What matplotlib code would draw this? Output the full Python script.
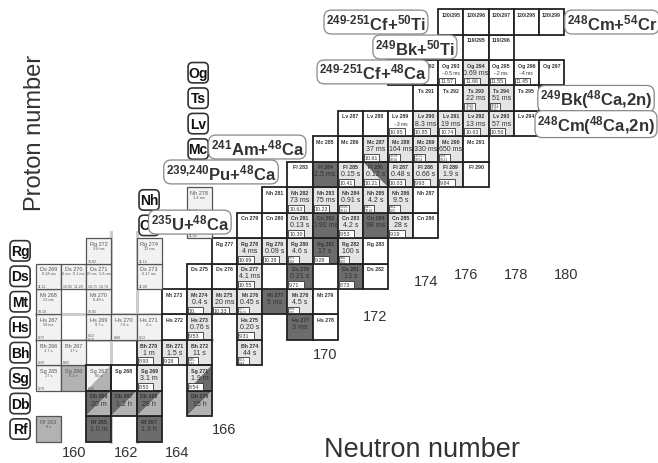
import matplotlib
matplotlib.use("Agg")
import matplotlib.pyplot as plt
from matplotlib.patches import Rectangle, Polygon, FancyBboxPatch

plt.rcParams['font.family'] = ['Liberation Sans', 'DejaVu Sans']
plt.rcParams['mathtext.default'] = 'regular'

# ---------------- data ----------------
symbols = {104: 'Rf', 105: 'Db', 106: 'Sg', 107: 'Bh', 108: 'Hs', 109: 'Mt', 110: 'Ds',
           111: 'Rg', 112: 'Cn', 113: 'Nh', 114: 'Fl', 115: 'Mc', 116: 'Lv', 117: 'Ts', 118: 'Og'}

cell_Z = [104, 104, 104,
          105, 105, 105, 105,
          106, 106, 106, 106, 106, 106,
          107, 107, 107, 107, 107, 107,
          108, 108, 108, 108, 108, 108, 108, 108, 108,
          109, 109, 109, 109, 109, 109, 109, 109, 109,
          110, 110, 110, 110, 110, 110, 110, 110, 110, 110,
          111, 111, 111, 111, 111, 111, 111, 111, 111,
          112, 112, 112, 112, 112, 112, 112, 112, 112,
          113, 113, 113, 113, 113, 113, 113, 113,
          114, 114, 114, 114, 114, 114, 114, 114,
          115, 115, 115, 115, 115, 115, 115,
          116, 116, 116, 116, 116, 116, 116, 116,
          117, 117, 117, 117, 117,
          118, 118, 118, 118, 118, 118, 118,
          119, 119,
          120, 120, 120, 120, 120]
cell_A = [263, 265, 267,
          266, 267, 268, 270,
          265, 266, 267, 268, 269, 271,
          266, 267, 270, 271, 272, 274,
          267, 269, 270, 271, 272, 273, 275, 277, 278,
          268, 270, 273, 274, 275, 276, 277, 278, 279,
          269, 270, 271, 273, 275, 276, 277, 279, 281, 282,
          272, 274, 277, 278, 279, 280, 281, 282, 283,
          277, 279, 280, 281, 282, 283, 284, 285, 286,
          278, 281, 282, 283, 284, 285, 286, 287,
          283, 284, 285, 286, 287, 288, 289, 290,
          285, 286, 287, 288, 289, 290, 291,
          287, 288, 289, 290, 291, 292, 293, 294,
          291, 292, 293, 294, 295,
          291, 292, 293, 294, 295, 296, 297,
          295, 296,
          295, 296, 297, 298, 299]
cell_half = ['8 s', '1.0 m', '1.3 h',
             '20 m', '1.2 h', '28 h', '15 h',
             '17 s', '0.3 s', '80 s', '', '3.1 m', '1.9 m',
             '1.7 s', '17 s', '1 m', '1.5 s', '11 s', '44 s',
             '59 ms', '9.7 s', '7.6 s', '4 s', '', '0.76 s', '0.20 s', '3 ms', '',
             '21 ms', '0.48 s', '', '0.4 s', '20 ms', '0.45 s', '5 ms', '4.5 s', '',
             '0.18 ms', '6 ms  0.1 ms', '69 ms  1.6 ms', '0.17 ms', '', '', '4.1 ms', '0.21 s', '13 s', '',
             '3.8 ms', '12 ms', '', '4 ms', '0.09 s', '4.6 s', '17 s', '100 s', '',
             '0.69 ms', '', '', '0.13 s', '0.91 ms', '4.2 s', '98 ms', '28 s', '',
             '1.4 ms', '', '73 ms', '75 ms', '0.91 s', '4.2 s', '9.5 s', '',
             '', '2.5 ms', '0.15 s', '0.12 s', '0.48 s', '0.66 s', '1.9 s', '',
             '', '', '37 ms', '164 ms', '330 ms', '650 ms', '',
             '', '', '~3 ms', '8.3 ms', '19 ms', '13 ms', '57 ms', '',
             '', '', '22 ms', '51 ms', '',
             '', '', '~0.5 ms', '0.69 ms', '~2 ms', '~4 ms', '',
             '', '',
             '', '', '', '', '']
cell_energy = ['', '', '',
               '', '', '', '',
               '8.70', '', '8.20', '', '8.50', '8.54',
               '9.29', '8.83', '8.93', '9.28', '8.85-\n9.15', '8.73-\n8.84',
               '9.73', '9.13\n9.18', '8.88', '9.13', '', '9.53', '9.31', '', '',
               '10.10', '10.05', '', '10.', '10.33', '9.77-\n10.03', '', '9.38-\n9.55', '',
               '11.11', '10.95  11.20', '10.71  10.74', '11.08', '', '', '10.55', '9.71', '8.73', '',
               '10.82', '11.15', '', '10.69', '10.38', '9.75-\n9.92', '9.28', '8.66-\n9.00', '',
               '11.45', '', '', '10.30', '', '9.53', '', '9.19', '',
               '11.68', '', '10.63', '10.23', '10.00-\n10.11', '9.47-\n10.18', '9.61-\n9.75', '',
               '', '', '10.41', '10.21', '10.03', '9.93', '9.84', '',
               '', '', '10.61', '10.29-\n10.56', '10.15-\n10.54', '9.78-\n10.31', '',
               '', '', '10.95', '10.85', '10.74', '10.63', '10.56', '',
               '', '', '10.60-\n11.20', '10.81-\n11.07', '',
               '', '', '11.57', '11.66', '11.55', '11.45', '',
               '', '',
               '', '', '', '', '']
cell_kind = ['med', 'dark', 'dark',
             'dm', 'dm', 'dm', 'dm',
             'old', 'med', 'lm', 'empty', 'new', 'ld2',
             'old', 'old', 'new', 'new', 'new', 'new',
             'old', 'old', 'old', 'old', 'empty', 'new', 'new', 'dark', 'empty',
             'old', 'old', 'empty', 'new', 'new', 'new', 'dark', 'new', 'empty',
             'old', 'old', 'old', 'old', 'empty', 'empty', 'new', 'dl', 'dl', 'empty',
             'old', 'old', 'empty', 'new', 'new', 'new', 'dl', 'new', 'empty',
             'old', 'empty', 'empty', 'new', 'dark', 'new', 'dark', 'new', 'empty',
             'old', 'empty', 'new', 'new', 'new', 'new', 'new', 'empty',
             'empty', 'dark', 'new', 'ld', 'new', 'new', 'new', 'empty',
             'empty', 'empty', 'new', 'new', 'new', 'new', 'empty',
             'empty', 'empty', 'white', 'new', 'new', 'new', 'new', 'empty',
             'empty', 'empty', 'new', 'new', 'empty',
             'empty', 'empty', 'white', 'new', 'white', 'white', 'empty',
             'empty', 'empty',
             'empty', 'empty', 'empty', 'empty', 'empty']

elem_labels = ['Rf', 'Db', 'Sg', 'Bh', 'Hs', 'Mt', 'Ds', 'Rg', 'Cn', 'Nh', 'Mc', 'Lv', 'Ts', 'Og']
elem_N = [157.87] * 8 + [163.0, 163.0] + [164.95] * 4
elem_Z = [104, 105, 106, 107, 108, 109, 110, 111, 112, 113, 115, 116, 117, 118]

n_labels = ['160', '162', '164', '166', '170', '172', '174', '176', '178', '180']
n_label_N = [160.0, 162.1, 164.1, 166.0, 170.0, 172.0, 174.0, 175.6, 177.6, 179.6]
n_label_Z = [103.1, 103.1, 103.1, 104.0, 106.95, 108.45, 109.8, 110.1, 110.1, 110.1]

reactions = [r'$^{249\text{-}251}$Cf+$^{50}$Ti', r'$^{249}$Bk+$^{50}$Ti', r'$^{249\text{-}251}$Cf+$^{48}$Ca',
             r'$^{248}$Cm+$^{54}$Cr', r'$^{249}$Bk($^{48}$Ca,2n)', r'$^{248}$Cm($^{48}$Ca,2n)',
             r'$^{241}$Am+$^{48}$Ca', r'$^{239{,}240}$Pu+$^{48}$Ca', r'$^{235}$U+$^{48}$Ca']
react_N = [172.02, 173.57, 171.90, 181.40, 180.77, 180.77, 167.30, 165.86, 164.62]
react_Z = [119.99, 119.01, 118.03, 119.99, 116.97, 115.98, 115.08, 114.10, 112.13]

# ---------------- drawing ----------------
fig = plt.figure(figsize=(6.58, 4.64), dpi=100)
ax = fig.add_axes([0, 0, 1, 1])
ax.set_xlim(157.072, 183.235)
ax.set_ylim(102.664, 120.896)
ax.axis('off')

LIGHT = '#e4e4e4'
MED = '#b2b2b2'
DARK = '#6c6c6c'
OLDF = '#f2f2f2'

# shell lines N=162, Z=108
for xv in (161.5, 162.5):
    ax.plot([xv, xv], [103.5, 111.75], color='#cccccc', lw=2.2, zorder=0.5)
for yv in (107.5, 108.5):
    ax.plot([158.5, 165.5], [yv, yv], color='#cccccc', lw=2.2, zorder=0.5)

for Z, A, half, en, kind in zip(cell_Z, cell_A, cell_half, cell_energy, cell_kind):
    N = A - Z
    x0, y0 = N - 0.5, Z - 0.5
    if kind in ('dm', 'lm', 'ld', 'dl', 'ld2'):
        if kind == 'dm':
            c1, c2 = DARK, MED
            tri1 = [(x0, y0), (x0, y0 + 1), (x0 + 1, y0 + 1)]
            tri2 = [(x0, y0), (x0 + 1, y0), (x0 + 1, y0 + 1)]
        elif kind == 'lm':
            c1, c2 = OLDF, MED
            tri1 = [(x0, y0), (x0, y0 + 1), (x0 + 1, y0 + 1)]
            tri2 = [(x0, y0), (x0 + 1, y0), (x0 + 1, y0 + 1)]
        elif kind == 'ld':
            c1, c2 = LIGHT, DARK
            tri1 = [(x0, y0 + 1), (x0, y0), (x0 + 1, y0)]
            tri2 = [(x0, y0 + 1), (x0 + 1, y0 + 1), (x0 + 1, y0)]
        elif kind == 'ld2':
            c1, c2 = LIGHT, DARK
            tri1 = [(x0, y0 + 1), (x0 + 1, y0 + 1), (x0, y0)]
            tri2 = [(x0, y0), (x0 + 1, y0), (x0 + 1, y0 + 1)]
        else:
            c1, c2 = LIGHT, DARK
            tri1 = [(x0, y0), (x0 + 0.3, y0), (x0, y0 + 0.3)]
            tri2 = [(x0 + 0.3, y0), (x0 + 1, y0), (x0 + 1, y0 + 1), (x0, y0 + 1), (x0, y0 + 0.3)]
        ax.add_patch(Polygon(tri1, closed=True, fc=c1, ec='none', zorder=1))
        ax.add_patch(Polygon(tri2, closed=True, fc=c2, ec='none', zorder=1))
        ax.add_patch(Rectangle((x0, y0), 1, 1, fc='none', ec='#222222', lw=1.3, zorder=2))
    else:
        fc = {'med': MED, 'dark': DARK, 'old': OLDF, 'new': LIGHT,
              'empty': 'white', 'white': 'white'}[kind]
        ec = '#555555' if kind in ('old', 'med') else '#222222'
        lw = 0.9 if kind in ('old', 'med') else 1.3
        ax.add_patch(Rectangle((x0, y0), 1, 1, fc=fc, ec=ec, lw=lw, zorder=1))

    name = f'{symbols[Z]} {A}' if Z in symbols else f'{Z}/{A}'
    small = kind in ('old', 'med', 'lm')
    if small:
        ax.text(N, Z + 0.3, name, ha='center', va='center', fontsize=4.0, color='#555555', zorder=5)
        if half:
            ax.text(N, Z + 0.12, half, ha='center', va='center', fontsize=2.8, color='#555555', zorder=5)
        if en:
            ax.text(N - 0.42, Z - 0.38, en, ha='left', va='center', fontsize=2.6, color='#555555', zorder=5,
                    linespacing=1.0)
    else:
        ax.text(N, Z + 0.3, name, ha='center', va='center', fontsize=3.8, fontweight='bold',
                color='#333333', zorder=5)
        if half:
            hs = 3.6 if half.startswith('~') else 5.0
            ax.text(N, Z + 0.02, half, ha='center', va='center', fontsize=hs, color='#333333', zorder=5)
        if en:
            ml = '\n' in en
            ax.add_patch(Rectangle((N - 0.46, Z - 0.46), 0.62 if not ml else 0.42, 0.27,
                                   fc='white', ec='#333333', lw=0.6, zorder=4))
            ax.text(N - 0.43, Z - 0.325, en, ha='left', va='center', fontsize=3.8 if not ml else 2.3,
                    color='#333333', zorder=5, linespacing=0.9)

# element labels
for lab, N, Z in zip(elem_labels, elem_N, elem_Z):
    ax.add_patch(FancyBboxPatch((N - 0.36, Z - 0.36), 0.72, 0.72,
                                boxstyle='round,pad=0.04,rounding_size=0.18',
                                fc='white', ec='#333333', lw=1.2, zorder=8))
    ax.text(N, Z, lab, ha='center', va='center', fontsize=10, fontweight='bold', color='#111111', zorder=9)

# neutron number labels
for lab, N, Z in zip(n_labels, n_label_N, n_label_Z):
    ax.text(N, Z, lab, ha='center', va='center', fontsize=10.5, color='#333333', zorder=6)

# reaction labels
for lab, N, Z in zip(reactions, react_N, react_Z):
    ax.text(N, Z, lab, ha='center', va='center', fontsize=12, fontweight='bold', color='#333333', zorder=10,
            bbox=dict(boxstyle='round,pad=0.12,rounding_size=0.45', fc='white', ec='#888888', lw=0.9))

ax.text(173.85, 103.2, 'Neutron number', ha='center', va='center', fontsize=19.5, color='#333333')
ax.text(158.46, 115.67, 'Proton number', ha='center', va='center', fontsize=17, rotation=90, color='#333333')

fig.savefig('out.png', dpi=100)
